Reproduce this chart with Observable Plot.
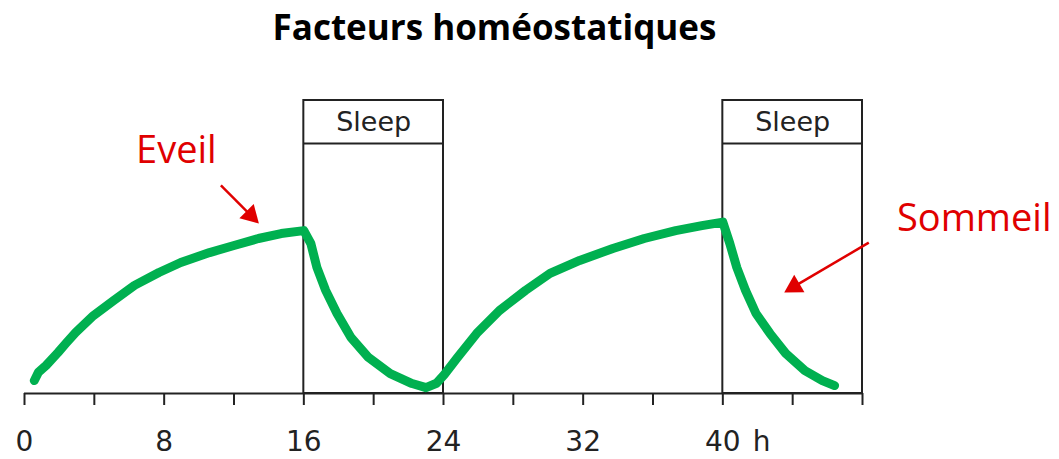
<!DOCTYPE html>
<html><head><meta charset="utf-8">
<script src="https://cdn.jsdelivr.net/npm/d3@7"></script>
<script src="https://cdn.jsdelivr.net/npm/@observablehq/plot@0.6"></script>
<style>
html,body{margin:0;padding:0;background:#fff;width:1059px;height:459px;overflow:hidden}
#title{position:absolute;left:0;top:9px;width:989px;text-align:center;font-family:"Open Sans",sans-serif;font-weight:700;font-size:35px;line-height:35px;color:#000;margin:0}
#chart{position:absolute;left:0;top:70px}
</style></head><body>
<h1 id="title">Facteurs homéostatiques</h1>
<div id="chart"></div>
<script>
// Homeostatic pressure curve (hours, arbitrary units 0-100)
const hours = [0.56,0.79,1.24,1.92,2.37,2.93,3.95,5.1,6.3,7.7,8.95,10.6,12,13.4,14.7,16,
  16.4,16.75,17.25,17.9,18.7,19.7,20.95,22.2,23.0,23.6,24.05,
  24.8,25.9,27.2,28.7,30.1,31.8,33.7,35.5,37.3,38.8,40,
  40.4,40.8,41.3,41.9,42.7,43.6,44.7,45.7,46.4];
const pressure = [4.4,7.2,9.6,14,17.1,20.8,26.6,31.7,36.9,41.3,44.7,48.1,50.5,52.9,54.6,55.6,
  51.2,43,35.2,27.3,19.1,12.3,6.8,3.4,2.0,3.5,6.5,
  12.3,20.5,28.3,35.2,41,45.4,49.5,52.9,55.6,57.3,58.5,
  51.2,43,35.2,27.3,20.5,13.7,7.8,4.4,2.7];

// Sleep periods
const sleepStart = [16, 40];
const sleepEnd = [24, 48];
const sleepLabel = ["Sleep", "Sleep"];

// Axis ticks
const tickHours = [0,4,8,12,16,20,24,28,32,36,40,44,48];
const labelHours = [0,8,16,24,32,40];
const unitLabel = ["h"];

// Annotations
const annotText = ["Eveil", "Sommeil"];
const annotX = [8.7, 54.4];
const annotY = [82.9, 59.7];
const arrowFromX = [11.25, 48.36];
const arrowFromY = [71, 51.5];
const arrowToX = [13.36, 43.6];
const arrowToY = [58.4, 34.8];

// Layout
const W = 1059, H = 389, mL = 24, mR = 197, mT = 30, mB = 66;
const yMax = 100, bandY = 85.3, labelY = 92.6;
const kx = (W - mL - mR) / 48, ky = (H - mT - mB) / yMax;

const curve = hours.map((h, i) => ({h, p: pressure[i]}));
const sleeps = sleepStart.map((s, i) => ({s, e: sleepEnd[i], label: sleepLabel[i]}));
const annots = annotText.map((t, i) => ({t, x: annotX[i], y: annotY[i]}));
const arrows = arrowFromX.map((fx, i) => {
  const tx = arrowToX[i], ty = arrowToY[i], fy = arrowFromY[i];
  const dxp = (tx - fx) * kx, dyp = -(ty - fy) * ky;
  const len = Math.hypot(dxp, dyp), ux = dxp / len, uy = dyp / len;
  return {
    fx, fy,
    sx: tx - ux * 13 / kx, sy: ty + uy * 13 / ky,
    hx: tx - ux * 10 / kx, hy: ty + uy * 10 / ky,
    rot: Math.atan2(ux, -uy) * 180 / Math.PI
  };
});

const red = "#e00000", ink = "#222";
const sans = "'DejaVu Sans', 'Liberation Sans', Arial, sans-serif";

const plot = Plot.plot({
  width: W, height: H,
  marginLeft: mL, marginRight: mR, marginTop: mT, marginBottom: mB,
  x: {domain: [0, 48], axis: null},
  y: {domain: [0, yMax], axis: null},
  style: {fontFamily: sans, background: "white", overflow: "visible"},
  marks: [
    Plot.rect(sleeps, {x1: "s", x2: "e", y1: 0, y2: yMax, stroke: ink, strokeWidth: 2, fill: "none"}),
    Plot.ruleY(sleeps, {y: () => bandY, x1: "s", x2: "e", stroke: ink, strokeWidth: 2}),
    Plot.text(sleeps, {x: d => (d.s + d.e) / 2, y: () => labelY, text: "label", fontSize: 27, fill: ink}),
    Plot.ruleY([0], {x1: 0, x2: 48, stroke: ink, strokeWidth: 2}),
    Plot.axisX({ticks: tickHours, tickSize: 12, tickPadding: 26, label: null,
      tickFormat: d => labelHours.includes(d) ? String(d) : "",
      fontSize: 28, color: ink, strokeWidth: 2}),
    Plot.text(unitLabel, {x: () => 40, y: () => 0, dx: 30, dy: 38, lineAnchor: "top", textAnchor: "start", fontSize: 28, fill: ink}),
    Plot.line(curve, {x: "h", y: "p", stroke: "#00b050", strokeWidth: 9, strokeLinecap: "round", strokeLinejoin: "round"}),
    Plot.link(arrows, {x1: "fx", y1: "fy", x2: "sx", y2: "sy", stroke: red, strokeWidth: 2.5}),
    Plot.dot(arrows, {x: "hx", y: "hy", symbol: "triangle", r: 7.5, fill: red, stroke: "none", rotate: "rot"}),
    Plot.text(annots, {x: "x", y: "y", text: "t", fontSize: 38, fill: red, fontFamily: "'Open Sans', sans-serif"})
  ]
});
document.getElementById("chart").appendChild(plot);
</script>
</body></html>
